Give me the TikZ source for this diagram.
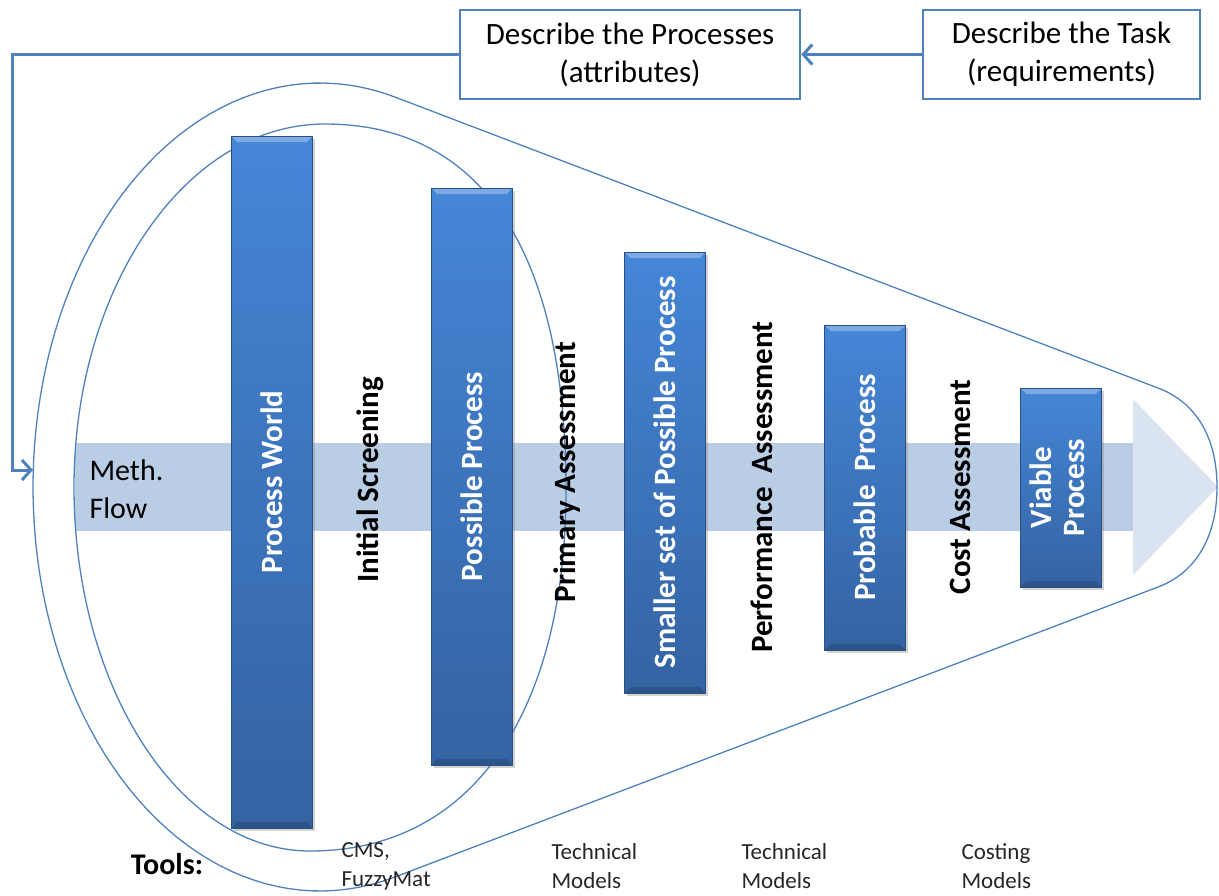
\documentclass[tikz,border=0pt]{standalone}
\usepackage{fontspec}
\setmainfont{Carlito}
\usetikzlibrary{arrows.meta,shadows}

\definecolor{lineblue}{HTML}{4F81BD}
\definecolor{shaftblue}{HTML}{B9CDE5}
\definecolor{headblue}{HTML}{DAE4F0}
\definecolor{bartop}{HTML}{4586D7}
\definecolor{barbot}{HTML}{3463A2}

\tikzset{
    descbox/.style={draw=lineblue, line width=2.5pt, fill=white, align=center,
        inner sep=0pt, font=\fontsize{31}{38}\selectfont},
    flowline/.style={draw=lineblue, line width=3pt,
        -{Straight Barb[length=9pt, width=20pt]}},
    thinline/.style={draw=lineblue, line width=1.3pt},
    procbar/.style={top color=bartop, bottom color=barbot, draw=barbot!80!black,
        line width=0.6pt, minimum width=81pt, inner sep=0pt, text=white,
        font=\fontsize{31}{33}\bfseries\selectfont,
        drop shadow={opacity=0.35, shadow xshift=2pt, shadow yshift=-3pt},
        path picture={
            % bevel
            \fill[white, opacity=0.3] (path picture bounding box.north west)
                -- (path picture bounding box.north east)
                -- ([xshift=-6pt, yshift=-6pt]path picture bounding box.north east)
                -- ([xshift=6pt, yshift=-6pt]path picture bounding box.north west) -- cycle;
            \fill[black, opacity=0.15] (path picture bounding box.south west)
                -- (path picture bounding box.south east)
                -- ([xshift=-6pt, yshift=6pt]path picture bounding box.south east)
                -- ([xshift=6pt, yshift=6pt]path picture bounding box.south west) -- cycle;
        }},
    steplabel/.style={rotate=90, font=\fontsize{31}{36}\bfseries\selectfont},
    toollabel/.style={anchor=west, align=left, text=black!85,
        font=\fontsize{23}{29}\selectfont}
}

\begin{document}
\begin{tikzpicture}[x=1pt, y=-1pt]
    \useasboundingbox (0,0) rectangle (1219,895);
    % Flow arrow
    \fill[shaftblue] (75,443) rectangle (1133,531);
    \fill[headblue] (1133,399) -- (1218,487) -- (1133,575) -- cycle;
    % Funnel
    \draw[thinline]
        plot[domain=74.7:285.1, samples=90] ({320+287*cos(\x)}, {487-404*sin(\x)})
        -- (1158,587) .. controls (1198,572) and (1217,534) .. (1217,487)
        .. controls (1217,440) and (1198,403) .. (1158,388) -- cycle;
    % Inner loop
    \draw[thinline] (325,124)
        .. controls (482,124) and (566,252) .. (566,490)
        .. controls (566,707) and (476,851) .. (310,851)
        .. controls (180,851) and (74,688) .. (74,487)
        .. controls (74,287) and (186,124) .. (325,124) -- cycle;
    % Description boxes
    \node[descbox, minimum width=340pt, minimum height=89pt] (procs) at (630,54.5)
        {Describe the Processes\\(attributes)};
    \node[descbox, minimum width=277pt, minimum height=89pt] (task) at (1061.5,54.5)
        {Describe the Task\\(requirements)};
    \coordinate (entry) at (33,470);
    \draw[flowline] (task.west) -- (procs.east);
    \draw[flowline] (procs.west) -| ([xshift=-21pt]entry) -- (entry);
    % Processes
    \foreach \name/\x/\ya/\yb/\txt in {
        world/272/136/828/{Process World},
        possible/472/188/765/{Possible Process},
        smaller/665/252/693/{Smaller set of Possible Process},
        probable/865/325/650/{Probable~ Process},
        viable/1061/388/587/{\begin{tabular}{@{}c@{}}Viable\\Process\end{tabular}}}
    {
        \node[procbar, minimum height={\yb-\ya}] (\name) at (\x,{(\ya+\yb)/2})
            {\rotatebox{90}{\txt}};
    }
    % Assessments
    \node[steplabel] (screen) at (370,480) {Initial Screening};
    \node[steplabel] (primary) at (567,472) {Primary Assessment};
    \node[steplabel] (perform) at (762,487) {Performance~ Assessment};
    \node[steplabel] (cost) at (960,487) {Cost Assessment};
    \node[anchor=west, align=left, font=\fontsize{30}{38}\selectfont] (meth)
        at (86,489) {Meth.\\Flow};
    % Tools
    \node[font=\fontsize{30}{36}\bfseries\selectfont] (tools) at (167,864) {Tools:};
    \node[toollabel] (cms) at (338,866) {CMS,\\FuzzyMat};
    \node[toollabel] (techa) at (548,866) {Technical\\Models};
    \node[toollabel] (techb) at (738,866) {Technical\\Models};
    \node[toollabel] (costing) at (958,866) {Costing\\Models};
\end{tikzpicture}
\end{document}
